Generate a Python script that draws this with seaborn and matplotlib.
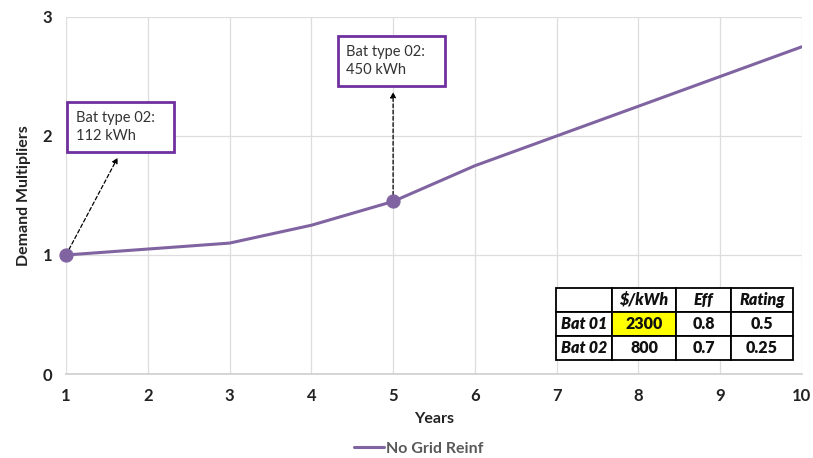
import matplotlib.pyplot as plt
import pandas as pd
import seaborn as sns

# values
years = [1, 2, 3, 4, 5, 6, 7, 8, 9, 10]
multipliers = [1.0, 1.05, 1.1, 1.25, 1.45, 1.75, 2.0, 2.25, 2.5, 2.75]
series_name = "No Grid Reinf"

marked_years = [1, 5]
notes = ["Bat type 02:\n112 kWh", "Bat type 02:\n450 kWh"]

table_cols = ["", "$/kWh", "Eff", "Rating"]
table_rows = ["Bat 01", "Bat 02"]
table_cost = ["2300", "800"]
table_eff = ["0.8", "0.7"]
table_rating = ["0.5", "0.25"]

LINE = "#8064A2"
BOX = "#7030A0"

sns.set_theme(style="whitegrid")
plt.rcParams["font.family"] = ["Lato", "DejaVu Sans"]

df = pd.DataFrame({"Years": years, "mult": multipliers, "series": series_name})
marks = df[df["Years"].isin(marked_years)]

fig = plt.figure(figsize=(8.13, 4.58), dpi=100)
ax = fig.add_axes([0.0812, 0.1834, 0.9052, 0.7795])

sns.lineplot(data=df, x="Years", y="mult", hue="series", palette=[LINE],
             linewidth=2.2, ax=ax, legend=False)
sns.scatterplot(data=marks, x="Years", y="mult", color=LINE, s=90,
                edgecolor=LINE, ax=ax, zorder=5, legend=False, clip_on=False)

ax.set_xlim(1, 10)
ax.set_ylim(0, 3)
ax.set_xticks(years)
ax.set_yticks([0, 1, 2, 3])
ax.tick_params(axis="both", length=0, labelsize=12, pad=10)
for lab in ax.get_xticklabels() + ax.get_yticklabels():
    lab.set_fontweight("bold")
    lab.set_color("#222222")
ax.set_xlabel("Years", fontsize=11.5, fontweight="bold", color="#222222", labelpad=6)
ax.set_ylabel("Demand Multipliers", fontsize=11.5, fontweight="bold", color="#222222", labelpad=8)
ax.grid(color="#dddddd", linewidth=0.9)
for side in ["left", "right", "top"]:
    ax.spines[side].set_visible(False)
ax.spines["bottom"].set_color("#d0d0d0")

# annotation boxes with dashed arrows
box_style = dict(boxstyle="square,pad=0.6", fc="white", ec=BOX, lw=2)
arrow_style = dict(arrowstyle="-|>", ls=(0, (3, 2)), color="black", lw=0.9,
                   mutation_scale=8, shrinkA=0, shrinkB=6)
ax.annotate("", xy=(1.68, 1.88), xytext=(1, 1.0), arrowprops=arrow_style)
ax.text(1.12, 2.075, notes[0] + "        ", fontsize=10.5, va="center", ha="left",
        color="#333333", bbox=box_style, linespacing=1.4)
ax.annotate("", xy=(5, 2.44), xytext=(5, 1.45), arrowprops=arrow_style)
ax.text(4.43, 2.63, notes[1] + "        ", fontsize=10.5, va="center", ha="left",
        color="#333333", bbox=box_style, linespacing=1.4)

# parameter table
cells = [table_cols] + [[r, c, e, g] for r, c, e, g in
                        zip(table_rows, table_cost, table_eff, table_rating)]
tbl = ax.table(cellText=cells, cellLoc="center",
               colWidths=[56, 64, 55, 62],
               bbox=[0.666, 0.039, 0.322, 0.202])
tbl.auto_set_font_size(False)
tbl.set_fontsize(11.5)
tbl.set_zorder(10)
for (r, c), cell in tbl.get_celld().items():
    cell.set_edgecolor("black")
    cell.set_linewidth(1.3)
    txt = cell.get_text()
    txt.set_fontweight("heavy")
    txt.set_color("#111111")
    if r == 0 or c == 0:
        txt.set_fontstyle("italic")
    if r == 1 and c == 1:
        cell.set_facecolor("#FFFF00")

# legend below the axes
handle = plt.Line2D([], [], color=LINE, lw=2.2)
leg = fig.legend([handle], [series_name], loc="center",
                 bbox_to_anchor=(0.515, 0.02), frameon=False,
                 handlelength=1.9, handletextpad=0.1,
                 prop={"weight": "bold", "size": 11.5})
for t in leg.get_texts():
    t.set_color("#595959")

fig.savefig("out.png", dpi=100)
